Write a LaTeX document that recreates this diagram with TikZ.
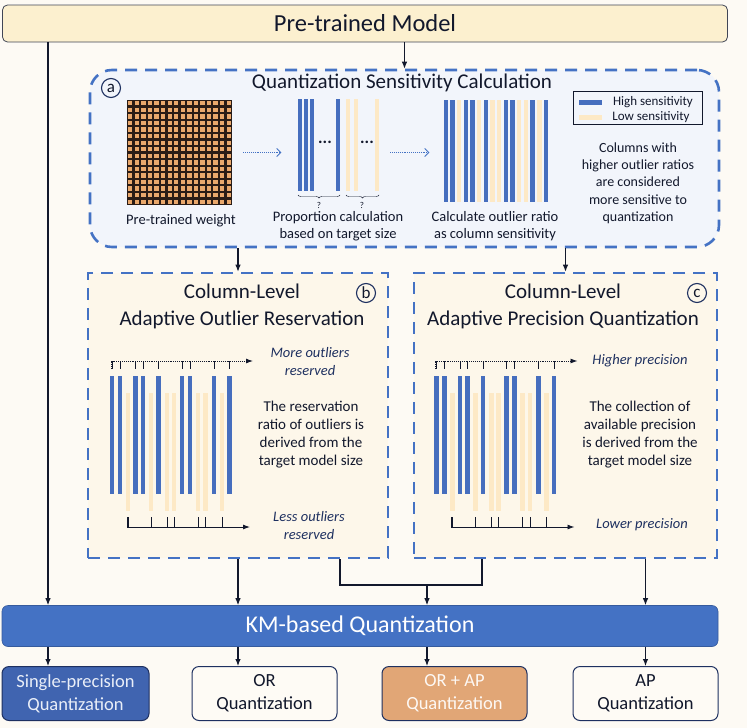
\documentclass[tikz,border=0pt]{standalone}
\usepackage{fontspec}
\setmainfont{Carlito}
\usetikzlibrary{arrows.meta,positioning,decorations.pathreplacing}
\definecolor{qblue}{RGB}{68,114,196}
\definecolor{qbar}{RGB}{70,110,190}
\definecolor{qpale}{RGB}{253,233,198}
\definecolor{qink}{RGB}{18,24,44}
\definecolor{qnavy}{RGB}{30,48,96}
\definecolor{qpaper}{RGB}{253,250,244}
\definecolor{qmodel}{RGB}{252,240,207}
\definecolor{qsecA}{RGB}{242,245,251}
\definecolor{qsecB}{RGB}{253,247,234}
\definecolor{qcream}{RGB}{254,251,245}
\definecolor{qtan}{RGB}{225,166,118}
\definecolor{qdeep}{RGB}{64,100,176}
\definecolor{qcell}{RGB}{233,168,108}
\definecolor{qdark}{RGB}{42,28,22}
\tikzset{
  panel/.style={rectangle,draw=qblue,line width=2.6pt,dash pattern=on 12pt off 8pt,
    inner sep=0pt},
  headbox/.style={rectangle,rounded corners=5pt,draw=qink!80,line width=0.8pt,fill=qmodel,
    minimum width=725pt,minimum height=37pt,font=\fontsize{24.5}{24.5}\selectfont,text=qink},
  kmbox/.style={rectangle,rounded corners=6pt,fill=qblue,draw=qblue!80!black,line width=0.6pt,
    minimum width=716pt,minimum height=41pt,font=\fontsize{24}{24}\selectfont,text=white},
  outbox/.style={rectangle,rounded corners=7pt,draw=qnavy,line width=1pt,fill=qcream,
    minimum width=145pt,minimum height=54pt,align=center,inner sep=2pt,
    font=\fontsize{18.5}{23}\selectfont,text=qink},
  paneltitle/.style={align=center,font=\fontsize{21}{27}\selectfont,text=qink},
  lbl/.style={align=center,font=\fontsize{14.5}{17.5}\selectfont,text=qink},
  axlbl/.style={align=center,font=\fontsize{14.5}{17.5}\selectfont\itshape,text=qnavy},
  tag/.style={circle,draw=qnavy,line width=1.1pt,inner sep=0pt,minimum size=19pt,
    font=\fontsize{17}{17}\selectfont,text=qink},
  gap/.style={font=\fontsize{17}{17}\selectfont\bfseries,text=qink},
  arr/.style={-{Latex[length=7pt,width=5.5pt]},line width=1.1pt,draw=qink},
  darr/.style={-{Straight Barb[length=4pt,width=8pt]},densely dotted,line width=0.9pt,draw=qblue},
  flow/.style={-{Latex[length=7pt,width=5pt]},line width=0.9pt,draw=qink}
}
\begin{document}
\begin{tikzpicture}[x=1pt,y=-1pt]
  \useasboundingbox (0,0) rectangle (747,728);
  \fill[qpaper] (0,0) rectangle (747,728);

  % header and the three panels
  \node[headbox] (model) at (365,23.5) {Pre-trained Model};
  \node[panel,rounded corners=22pt,fill=qsecA,minimum width=629pt,minimum height=177pt]
    (secA) at (404.5,158.5) {};
  \node[panel,fill=qsecB,minimum width=300pt,minimum height=285pt] (secB) at (238,415.5) {};
  \node[panel,fill=qsecB,minimum width=303pt,minimum height=285pt] (secC) at (565.5,415.5) {};

  % (a) sensitivity calculation
  \node[tag] (tagA) at (111,88) {a};
  \node[paneltitle] (titleA) at (402,83) {Quantization Sensitivity Calculation};
  \node[rectangle,fill=qdark,minimum size=105pt,inner sep=0pt] (w) at (179.5,152.5) {};
  \foreach \i in {0,...,15}{
    \foreach \j in {0,...,15}{
      \fill[qcell] ({127+6.5625*\i+1.15},{100+6.5625*\j+1.15}) rectangle +(4.3,4.3);
    }
  }
  \node[lbl] (wlbl) at (181,221) {Pre-trained weight};

  \node[minimum width=82pt,minimum height=92pt,inner sep=0pt] (prop) at (338.5,145) {};
  \foreach \x in {300,306,312,338}
    \fill[qbar] (\x-2,99) rectangle (\x+2,191);
  \foreach \x in {348,356,377}
    \fill[qpale] (\x-2,99) rectangle (\x+2,191);
  \node[gap] (dots1) at (325,142) {...};
  \node[gap] (dots2) at (367,142) {...};
  \draw[decorate,decoration={brace,mirror,amplitude=3pt},thin,qink] (298,195) -- (340,195);
  \draw[decorate,decoration={brace,mirror,amplitude=3pt},thin,qink] (346,195) -- (379,195);
  \node[font=\fontsize{9}{9}\selectfont,text=qink] (q1) at (319,205) {?};
  \node[font=\fontsize{9}{9}\selectfont,text=qink] (q2) at (362,205) {?};
  \node[lbl] (plbl) at (338,226) {Proportion calculation\\based on target size};

  \node[minimum width=106pt,minimum height=103pt,inner sep=0pt] (sens) at (495.5,151) {};
  \foreach \c [count=\k from 0] in {1,1,0,1,1,0,1,0,0,1,1,0,0,1,0,1}{
    \ifnum\c=1 \fill[qbar] ({445.7+6.69*\k-2.2},100) rectangle ({445.7+6.69*\k+2.2},202);
    \else \fill[qpale] ({445.7+6.69*\k-2.2},100) rectangle ({445.7+6.69*\k+2.2},202); \fi
  }
  \node[lbl] (slbl) at (495,226) {Calculate outlier ratio\\as column sensitivity};

  \draw[darr,shorten <=11pt,shorten >=16pt] (w.east) -- (w.east -| prop.west);
  \draw[darr,shorten <=10.5pt,shorten >=13pt] (prop.east |- w.east) -- (sens.west |- w.east);

  \node[draw=qink,line width=0.9pt,minimum width=129pt,minimum height=33pt,inner sep=0pt]
    (legend) at (637.5,107.5) {};
  \fill[qbar] (579,100) rectangle (602,104.5);
  \fill[qpale] (579,115) rectangle (602,119.5);
  \node[font=\fontsize{13}{13}\selectfont,text=qink] (hi) at (653,102) {High sensitivity};
  \node[font=\fontsize{13}{13}\selectfont,text=qink] (lo) at (651,117) {Low sensitivity};
  \node[lbl,font=\fontsize{14}{17.3}\selectfont] (note) at (638,183)
    {Columns with\\higher outlier ratios\\are considered\\more sensitive to\\quantization};

  % (b) and (c) share the column layout
  \foreach \dx in {0,324.5}{
    \begin{scope}[xshift=\dx]
      \foreach \x in {112,120,135.5,143,158.5,182,190,214,229.5}{
        \fill[qbar] (\x-2.3,376) rectangle (\x+2.3,494);
        \draw[thin,qink] (\x,361) -- (\x,369);
      }
      \foreach \x in {128,151,167,174,198,205.5,222}{
        \fill[qpale] (\x-2.3,393) rectangle (\x+2.3,511);
        \draw[thin,qink] (\x,527) -- (\x,517);
      }
      \draw[flow,densely dotted] (111,369) -- (111,361) -- (253,361);
      \draw[flow] (127,517) -- (127,527) -- (250,527);
    \end{scope}
  }
  \node[tag] (tagB) at (366,293) {b};
  \node[paneltitle] (titleB) at (242,306.5) {Column-Level\\Adaptive Outlier Reservation};
  \node[axlbl] (moreB) at (310,361.5) {More outliers\\reserved};
  \node[axlbl] (lessB) at (309,525.5) {Less outliers\\reserved};
  \node[lbl,font=\fontsize{15}{18}\selectfont] (noteB) at (311,435)
    {The reservation\\ratio of outliers is\\derived from the\\target model size};

  \node[tag] (tagC) at (697,293) {c};
  \node[paneltitle] (titleC) at (563,306.5) {Column-Level\\Adaptive Precision Quantization};
  \node[axlbl] (hiC) at (640,361) {Higher precision};
  \node[axlbl] (loC) at (642,525) {Lower precision};
  \node[lbl,font=\fontsize{15}{18}\selectfont] (noteC) at (640,435)
    {The collection of\\available precision\\is derived from the\\target model size};

  % quantization stage
  \node[kmbox] (km) at (360,626) {KM-based Quantization};
  \node[outbox,fill=qdeep,minimum width=147pt,text=white!88!qblue] (single) at (75.5,693.5)
    {Single-precision\\Quantization};
  \node[outbox] (or) at (264.5,693.5) {OR\\Quantization};
  \node[outbox,fill=qtan,text=white!92!qtan] (orap) at (454.5,693.5) {OR + AP\\Quantization};
  \node[outbox] (ap) at (645.5,693.5) {AP\\Quantization};

  \coordinate (lx) at (48,0);
  \coordinate (mb) at (340,0);
  \coordinate (mc) at (482,0);
  \coordinate (join) at (427,585);

  \draw[arr] (model.south -| secA.north) -- (secA.north);
  \draw[arr] (model.south -| lx) -- (lx |- km.north);
  \draw[arr] (secA.south -| secB.north) -- (secB.north);
  \draw[arr] (secA.south -| secC.north) -- (secC.north);
  \draw[arr] (secB.south) -- (secB.south |- km.north);
  \draw[line width=1.1pt,qink] (secB.south -| mb) |- (join) -| (secC.south -| mc);
  \draw[arr] (join) -- (join |- km.north);
  \draw[arr] (secC.south -| ap.north) -- (ap.north |- km.north);
  \draw[arr] (km.south -| lx) -- (lx |- single.north);
  \draw[arr] (km.south -| secB.south) -- (secB.south |- or.north);
  \draw[arr] (km.south -| join) -- (join |- orap.north);
  \draw[arr] (km.south -| ap.north) -- (ap.north);
\end{tikzpicture}
\end{document}
